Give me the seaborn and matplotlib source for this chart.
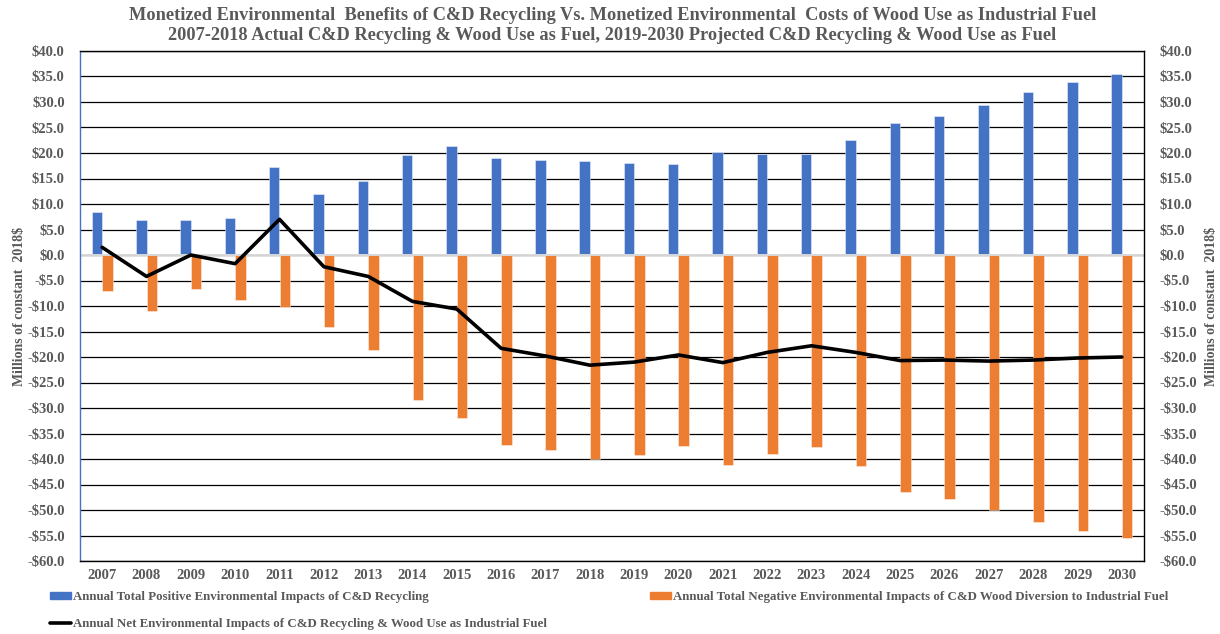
import numpy as np
import pandas as pd
import matplotlib
matplotlib.use("Agg")
import matplotlib.pyplot as plt
from matplotlib.ticker import FuncFormatter, MultipleLocator
from matplotlib.patches import Patch
from matplotlib.lines import Line2D
import seaborn as sns

years = [str(y) for y in range(2007, 2031)]
positive = [8.5, 6.8, 6.8, 7.3, 17.3, 11.9, 14.6, 19.6, 21.3, 19.0, 18.7, 18.5,
            18.1, 17.8, 20.2, 19.9, 19.9, 22.5, 25.8, 27.2, 29.4, 31.9, 33.9, 35.4]
negative = [-7.0, -10.9, -6.7, -8.9, -10.2, -14.1, -18.7, -28.5, -32.0, -37.2, -38.2, -40.0,
            -39.2, -37.5, -41.2, -39.0, -37.7, -41.4, -46.5, -47.8, -50.0, -52.4, -54.2, -55.5]
net = [1.5, -4.2, 0.0, -1.7, 7.0, -2.3, -4.2, -9.1, -10.6, -18.3, -19.8, -21.6,
       -21.0, -19.6, -21.1, -19.1, -17.8, -19.1, -20.7, -20.6, -20.8, -20.6, -20.2, -20.0]

lab_pos = "Annual Total Positive Environmental Impacts of C&D Recycling"
lab_neg = "Annual Total Negative Environmental Impacts of C&D Wood Diversion to Industrial Fuel"
lab_net = "Annual Net Environmental Impacts of C&D Recycling & Wood Use as Industrial Fuel"
title1 = "Monetized Environmental  Benefits of C&D Recycling Vs. Monetized Environmental  Costs of Wood Use as Industrial Fuel"
title2 = "2007-2018 Actual C&D Recycling & Wood Use as Fuel, 2019-2030 Projected C&D Recycling & Wood Use as Fuel"
ylab = "Millions of constant  2018$"

BLUE = "#4472C4"
ORANGE = "#ED7D31"
GRAY = "#595959"

sns.set_theme(style="white")
plt.rcParams["font.family"] = ["Liberation Serif", "DejaVu Serif"]
plt.rcParams["font.weight"] = "bold"

df = pd.DataFrame({
    "year": years * 2,
    "value": positive + negative,
    "series": [lab_pos] * len(years) + [lab_neg] * len(years),
})

fig = plt.figure(figsize=(12.2, 6.34), dpi=100)
ax = fig.add_axes([80 / 1220, 1 - 561 / 634, (1144 - 80) / 1220, (561 - 51) / 634])

sns.barplot(data=df, x="year", y="value", hue="series", order=years,
            hue_order=[lab_pos, lab_neg], palette=[BLUE, ORANGE],
            width=0.474, ax=ax, legend=False, edgecolor="#ffffff",
            linewidth=0.6, saturation=1)
for p in ax.patches:
    p.set_edgecolor((1, 1, 1, 0.5))

sns.lineplot(x=np.arange(len(years)), y=net, color="black", linewidth=2.6,
             ax=ax, legend=False, zorder=5)

ax.set_xlim(-0.5, len(years) - 0.5)
ax.set_ylim(-60, 40)
ax.yaxis.set_major_locator(MultipleLocator(5))

def fmt(v, pos):
    return f"-${abs(v):.1f}" if v < -1e-9 else f"${abs(v):.1f}"

ax.yaxis.set_major_formatter(FuncFormatter(fmt))
ax.grid(axis="y", color="black", linewidth=0.9)
ax.set_axisbelow(True)
ax.axhline(0, color="#D9D9D9", linewidth=1.4, zorder=1.5)

for s in ["top", "right", "bottom"]:
    ax.spines[s].set_color("black")
    ax.spines[s].set_linewidth(1.0)
ax.spines["left"].set_color(BLUE)
ax.spines["left"].set_linewidth(1.0)

FS = 10.5
ax.set_xlabel("")
ax.set_ylabel(ylab, fontsize=10, color=GRAY, fontweight="bold", labelpad=1)
ax.tick_params(axis="both", length=0, labelsize=FS, labelcolor=GRAY)
ax.tick_params(axis="y", pad=11)
ax.tick_params(axis="x", pad=6)
for t in ax.get_xticklabels() + ax.get_yticklabels():
    t.set_fontweight("bold")

ax2 = ax.twinx()
ax2.set_ylim(-60, 40)
ax2.yaxis.set_major_locator(MultipleLocator(5))
ax2.yaxis.set_major_formatter(FuncFormatter(fmt))
ax2.tick_params(axis="y", length=0, labelsize=FS, labelcolor=GRAY, pad=11)
for t in ax2.get_yticklabels():
    t.set_fontweight("bold")
ax2.set_ylabel(ylab, fontsize=10, color=GRAY, fontweight="bold", rotation=90, labelpad=6)
for s in ax2.spines.values():
    s.set_visible(False)
ax2.grid(False)

fig.text(0.502, 0.975, title1, ha="center", va="center", fontsize=13.2,
         fontweight="bold", color=GRAY)
fig.text(0.502, 0.944, title2, ha="center", va="center", fontsize=13.2,
         fontweight="bold", color=GRAY)

handles = [Patch(facecolor=BLUE, edgecolor=BLUE),
           Line2D([0], [0], color="black", linewidth=2.6),
           Patch(facecolor=ORANGE, edgecolor=ORANGE)]
labels = [lab_pos, lab_net, lab_neg]
leg = fig.legend(handles, labels, loc="upper left", bbox_to_anchor=(50 / 1220, 1 - 591 / 634),
                 ncol=2, frameon=False, fontsize=9.3, handlelength=1.6, handleheight=0.45,
                 handletextpad=0.15, labelspacing=1.2, columnspacing=8.0,
                 borderaxespad=0, borderpad=0)
for t in leg.get_texts():
    t.set_color(GRAY)
    t.set_fontweight("bold")

fig.savefig("out.png", dpi=100)
